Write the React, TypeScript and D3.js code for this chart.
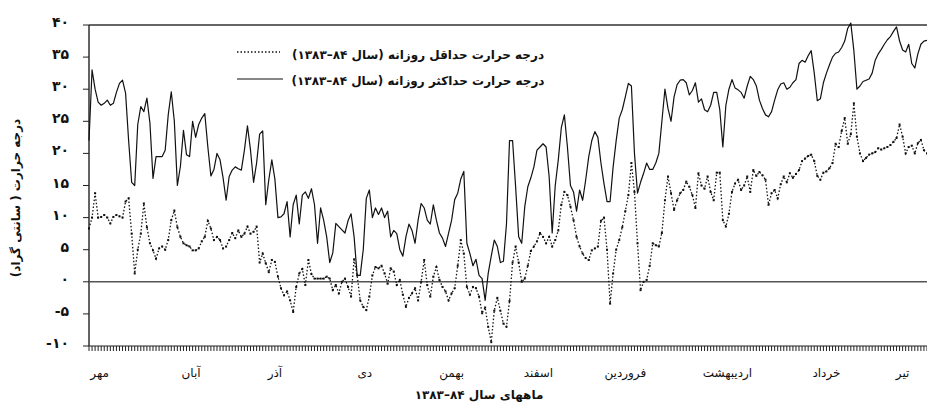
import React from "react";
import * as d3 from "d3";

// Daily maximum temperature (solid line), Mehr 1383 .. Tir 1384
const maxTemp: number[] = [
  22, 33, 30, 28, 27.5, 27.8, 28.3, 27.5, 27.8, 29.5,
  30.9, 31.4, 29.4, 22, 15.5, 15, 24.5, 27.3, 26.5, 28.6,
  24.7, 16.1, 19.5, 19.5, 19.5, 20.5, 26, 29.6, 25, 15,
  18, 23.6, 19.8, 19.5, 25, 22.5, 24.5, 25.5, 26.2, 21,
  16.5, 17.5, 20, 19, 16.2,
  12.7, 16.4, 17.4, 17.9, 17.6,
  17.4, 20.5, 24.3, 20.5, 15.5, 18.5, 23, 23.5, 12, 15.9,
  19, 16, 10, 10.1, 10.6, 12.5, 7, 12, 13.5, 9,
  13.5, 14, 13, 14.5, 12, 6, 11.5, 9.6, 7, 3,
  4.5, 9.1, 8.6, 8.1, 7.6, 9.5, 10.6, 7, 1, 1,
  5, 13, 14.3, 10, 11.5, 10.5, 11.5, 10, 11, 7,
  8, 7.5, 5, 4, 7, 9, 8, 6, 9.6, 12.2,
  11.5, 9.6, 9, 12, 9.6, 7.6, 6.8, 5.5, 7.6, 9.6,
  12.8, 13.8, 16, 17.2, 6, 4.4, 2.5, 3.5, 1, 0.5,
  -2.9, 1.3, 4, 6.5, 5.5, 3, 3.2, 9, 22, 22,
  14.8, 7, 6, 11.7, 14.8, 16.2, 17.9, 20.5, 21, 21.5,
  21, 16.4, 7.6, 15, 19, 24, 26, 21, 15, 14,
  11, 14.3, 12.7, 15.9, 19.5, 22, 23.4, 22.5, 18.5, 15.3,
  12.5, 12.5, 17.9, 22, 25.5, 26.8, 28.8, 30.9, 30.5, 20,
  13.8, 15.5, 16.9,
  18.5, 17.5, 17.5, 18.5, 20, 25, 30,
  27, 25, 28.8, 30.7, 31.4, 31.5, 31, 29.1, 29.8, 31,
  28, 28.5, 26.8, 26.5, 27.5, 29.5, 29.5, 26.8, 21, 27.5,
  30, 31.5, 30.2, 29.9, 29.5, 28.6, 30.5, 32, 31.5, 30.5,
  28.3, 27, 26, 25.7, 26.5, 28.3, 29.9, 30.8, 31,
  30, 30.3, 31, 31.5, 34, 34.5, 34.2, 35.2, 36, 32.5, 28.2,
  28.5, 31, 32.5, 33.8, 35, 35.6, 35.8, 36.5, 37.5, 39.5,
  40.3, 36, 30, 30.5, 31.2, 31.4, 31.6, 32.5, 34.5, 35.5,
  36.2, 37, 37.7, 38.2, 39, 39.7, 37.5, 36.1, 35.8, 37,
  34, 33.3, 35.5, 37, 37.5, 37.6,
];

// Daily minimum temperature (dotted line)
const minTemp: number[] = [
  8.3, 10, 13.8, 10, 10.1, 10.4, 10, 9.1, 10.1, 10.4,
  10.2, 10, 12.5, 13, 7.5, 1.3, 5, 7.5, 12.2, 8.5,
  6, 4.9, 3.6, 5.2, 5.5, 5, 6.5, 9.6, 11.1, 8.5,
  7, 6, 5.7, 5.5, 4.9, 4.9, 5.2, 6.3, 7, 9.5,
  8.3, 6.5, 7, 6.5, 5.2,
  5.5, 6.5, 7.6, 6.8, 8, 7, 7.5, 8.6, 7.5, 7.8, 8.6,
  3, 4.4, 2.9, 1.5, 3.4, 3.1, 0.8, -1, -2.1, -1.5,
  -2.9, -4.7, -0.8, 1.3, 2, -0.5, 3.4, 1.2, 0.5, 0.5,
  0.5, 0.5, 0.8, 0.5, -1.3, -0.5, -1.8, 0, 0.5, -0.8,
  -2.3, 3.5, 1, -2.9, -3.9,
  -4.4, -2.3, 1, 2.3, 2.1, 2.5, 1.3, -0.3, 2.1, 1.6,
  -0.5, 0.3, -2, -3.9, -2.5, -1.8, -1, -2.9, 0, 3.4,
  -0.5, -2.3, 0.8, 2.3, 0.3, -0.8, -1.5, -2.9, -1.8, -1,
  2.5, 6.5, 4.4, -0.8, -2, -0.8, -1, -2.3, -4.9, -4,
  -7, -9.4, -4.5, -2.5, -4.5, -6.5,
  -7, -3, 3, 5.5, 3, 0, 0.5, 2.5, 4.8, 5.5,
  6.3, 7.6, 7, 6, 7, 5.5, 6.5, 8, 12, 14,
  13.5, 11.7, 9.6, 7, 5.5, 4.4, 3.7, 3.4, 4.9, 5.2,
  5.5, 9.5, 10, 5, -3.4, 1.3, 5, 6.5, 8.5, 11,
  13.5, 18.5, 14, 6, -1.3, 0,
  0.3, 2.5, 6, 5.7, 5.5, 7.6, 12.7, 16.4, 13.8, 11.2,
  12.7, 13.8, 14.3, 15.6, 14.8, 13.5, 11.5, 16.9, 15, 14.5,
  16.4, 14, 12.7, 17, 17, 9.6, 8.6, 10.6, 14, 15.3,
  15.9, 14.3, 15, 16.4, 14, 17.4, 16.5, 17.1, 16.6, 15.9,
  12, 13.8, 14.3, 13, 15.2, 16.4,
  15.5, 16.9, 16.2, 16.8, 17.4, 18.8, 19.2, 19.6, 19.8, 18.8,
  16.5, 15.9, 17, 17.2, 17.7, 18.5, 21.5, 21, 23.5, 25.5,
  21.5, 23, 27.8, 22.6, 20, 18.8, 19.3, 19.8, 20, 20.2,
  20.8, 20.6, 20.8, 21, 21.3, 21.8, 22.4, 24.5, 22.6, 20,
  21, 21.2, 20, 21.6, 22.1, 20.5, 20,
];

// Month names and the day index where each label sits
const monthNames: string[] = ["مهر", "آبان", "آذر", "دی", "بهمن", "اسفند", "فروردین", "اردیبهشت", "خرداد", "تیر"];
const monthLabelDays: number[] = [3.5, 33.5, 61, 90.5, 119, 147.5, 176, 209.5, 242, 267];

const yTicks: number[] = [-10, -5, 0, 5, 10, 15, 20, 25, 30, 35, 40];

const legendMin = "درجه حرارت حداقل روزانه (سال ۸۴–۱۳۸۳)";
const legendMax = "درجه حرارت حداکثر روزانه (سال ۸۴–۱۳۸۳)";
const yTitle = "درجه حرارت ( سانتی گراد)";
const xTitle = "ماههای سال ۸۴–۱۳۸۳";

const toFa = (n: number) =>
  (n < 0 ? "-" : "") + String(Math.abs(n)).replace(/[0-9]/g, (c) => "۰۱۲۳۴۵۶۷۸۹"[+c]);

const W = 927;
const H = 403;
const L = 89, R = 927, T = 25, B = 346;
const FONT = "'DejaVu Sans', sans-serif";

export default function App() {
  const x = d3.scaleLinear().domain([0, 275]).range([L, R]);
  const y = d3.scaleLinear().domain([-10, 40]).range([B, T]);
  const line = d3.line<number>().x((_, i) => x(i)).y((v) => y(v));
  const days = d3.range(0, 276);

  return (
    <div style={{ position: "absolute", left: 0, top: 0 }}>
      <svg width={W} height={H} style={{ display: "block", background: "#fff" }}>
        <rect width={W} height={H} fill="#fff" />
        {/* frame */}
        <line x1={L} x2={R} y1={T} y2={T} stroke="#333" strokeWidth={1.4} />
        <line x1={L} x2={L} y1={T} y2={B} stroke="#222" strokeWidth={1.4} />
        <line x1={L} x2={R} y1={B} y2={B} stroke="#222" strokeWidth={1} />
        <line x1={L} x2={R} y1={y(0)} y2={y(0)} stroke="#555" strokeWidth={1.5} />
        {/* y ticks */}
        {yTicks.map((t) => (
          <g key={t}>
            <line x1={L - 6} x2={L} y1={y(t)} y2={y(t)} stroke="#222" strokeWidth={1} />
            <text x={69} y={y(t) - 2} textAnchor="end" dominantBaseline="middle" fontFamily={FONT}
              fontWeight="bold" fontSize={14} letterSpacing={2} fill="#111">{toFa(t)}</text>
          </g>
        ))}
        {/* x daily ticks */}
        {days.map((d) => (
          <line key={d} x1={x(d)} x2={x(d)} y1={B} y2={B + 5} stroke="#222" strokeWidth={1} />
        ))}
        {/* month labels */}
        {monthNames.map((m, i) => (
          <text key={m} x={x(monthLabelDays[i])} y={373} textAnchor="middle" dominantBaseline="middle"
            fontFamily={FONT} fontSize={12} fill="#111" direction="rtl">{m}</text>
        ))}
        <text x={479} y={395} textAnchor="middle" dominantBaseline="middle" fontFamily={FONT}
          fontWeight="bold" fontSize={12} fill="#111" direction="rtl">{xTitle}</text>
        <text transform={`translate(16,198) rotate(-90)`} textAnchor="middle" dominantBaseline="middle"
          fontFamily={FONT} fontWeight="bold" fontSize={12} fill="#111" direction="rtl">{yTitle}</text>
        {/* series */}
        <path d={line(maxTemp) || ""} fill="none" stroke="#111" strokeWidth={1.2} strokeLinejoin="round" />
        <path d={line(minTemp) || ""} fill="none" stroke="#111" strokeWidth={1.3} strokeDasharray="1.5 2" />
        {minTemp.map((v, i) => (
          <rect key={i} x={x(i) - 1} y={y(v) - 1} width={2} height={2} fill="#111" />
        ))}
        {/* legend */}
        <line x1={237} x2={280} y1={52} y2={52} stroke="#111" strokeWidth={1.3} strokeDasharray="1.5 2" />
        <line x1={237} x2={283} y1={79} y2={79} stroke="#111" strokeWidth={1.2} />
        <text x={418} y={55} textAnchor="middle" dominantBaseline="middle" fontFamily={FONT}
          fontWeight="bold" fontSize={12} fill="#111" direction="rtl">{legendMin}</text>
        <text x={418} y={81} textAnchor="middle" dominantBaseline="middle" fontFamily={FONT}
          fontWeight="bold" fontSize={12} fill="#111" direction="rtl">{legendMax}</text>
      </svg>
    </div>
  );
}
